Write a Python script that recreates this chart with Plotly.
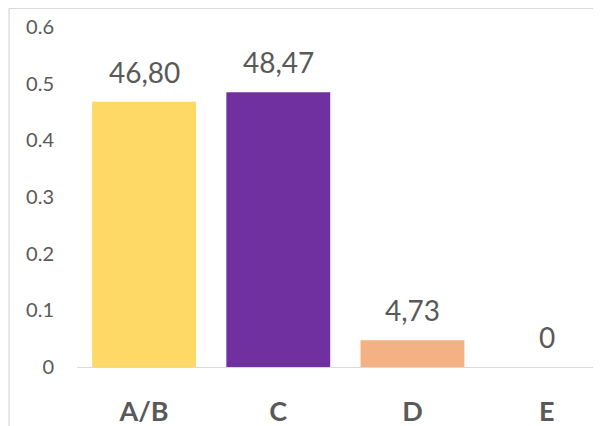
import plotly.graph_objects as go

categories = ["A/B", "C", "D", "E"]
values = [0.468, 0.4847, 0.0473, 0.0]
value_labels = ["46,80", "48,47", "4,73", "0"]
bar_colors = ["#FFD966", "#7030A0", "#F4B183", "#A5A5A5"]
y_ticks = [0, 0.1, 0.2, 0.3, 0.4, 0.5, 0.6]
y_tick_labels = ["0", "0.1", "0.2", "0.3", "0.4", "0.5", "0.6"]

FONT = "Lato, 'Open Sans', sans-serif"
GREY = "#595959"

# figure is placed at an 8px page offset by the default body margin
W, H = 593, 418
L, T, B = 68.5, 19.2, 58.8
PW, PH = W - L, H - T - B

fig = go.Figure()
fig.add_trace(go.Bar(
    x=categories, y=values, marker=dict(color=bar_colors, line=dict(width=0)),
    hoverinfo="skip",
))

for c, v, t in zip(categories, values, value_labels):
    fig.add_annotation(x=c, y=v, text=t, showarrow=False, yanchor="middle",
                       yshift=30, font=dict(family=FONT, size=28, color=GREY))

fig.update_layout(
    width=W, height=H,
    margin=dict(l=L, r=0, t=T, b=B, autoexpand=False),
    paper_bgcolor="white", plot_bgcolor="white",
    bargap=0.226, showlegend=False,
    xaxis=dict(range=[-0.5, 3.405], showgrid=False, showline=True,
               linecolor="#D9D9D9", linewidth=1.3,
               ticks="outside", ticklen=20, tickcolor="rgba(0,0,0,0)",
               tickfont=dict(family=FONT, size=27, color=GREY, weight="bold")),
    yaxis=dict(range=[0, 0.6], tickvals=y_ticks, ticktext=y_tick_labels,
               showgrid=False, showline=False, zeroline=False,
               ticks="outside", ticklen=18, tickcolor="rgba(0,0,0,0)",
               tickfont=dict(family=FONT, size=20, color=GREY)),
)

# chart-area border (left and top edges visible in the crop)
bx = (0.5 - L) / PW
by = (PH + T - 0.5) / PH
fig.add_shape(type="line", xref="paper", yref="paper",
              x0=bx, x1=bx, y0=by, y1=-0.3,
              line=dict(color="#D9D9D9", width=1.3))
fig.add_shape(type="line", xref="paper", yref="paper",
              x0=bx, x1=1.05, y0=by, y1=by,
              line=dict(color="#D9D9D9", width=1.3))

fig.write_html("out.html")
